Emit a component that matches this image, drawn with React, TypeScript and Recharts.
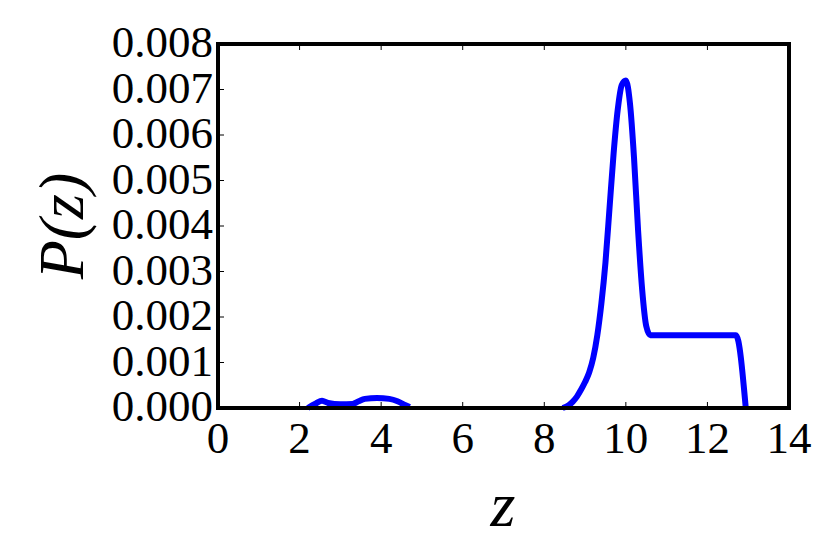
import { Line, LineChart, ReferenceArea, XAxis, YAxis } from "recharts"

// z grid and P(z); null = line hidden under the bottom spine
const zValues = [
  2.2, 2.4, 2.55, 2.7, 3.0, 3.3, 3.45, 3.6, 3.9, 4.2, 4.4, 4.6, 4.7,
  6.5,
  8.45, 8.6, 8.7, 8.8, 8.9, 9.0, 9.1, 9.2, 9.3, 9.4, 9.5, 9.6, 9.7, 9.8, 9.9, 10.0,
  10.1, 10.2, 10.3, 10.4, 10.5, 10.6, 12.7, 12.94,
]
const pValues = [
  0, 0.0001, 0.00016, 0.00011, 0.00008, 0.00009, 0.00015, 0.0002, 0.00022, 0.0002, 0.00015, 0.00006, 0.00002,
  null,
  0, 0.00006, 0.00014, 0.00025, 0.0004, 0.00057, 0.00078, 0.0011, 0.0016, 0.0023, 0.0032, 0.0044, 0.0056, 0.00655, 0.0071, 0.0072,
  0.0067, 0.0055, 0.0039, 0.0026, 0.0018, 0.0016, 0.0016, 0,
]

const xTicks = [0, 2, 4, 6, 8, 10, 12, 14]
const yTicks = [0, 0.001, 0.002, 0.003, 0.004, 0.005, 0.006, 0.007, 0.008]

const data = zValues.map((z, i) => ({ z, p: pValues[i] }))

const font = "'Liberation Serif', 'DejaVu Serif', serif"

const BottomTick = ({ x, y, payload }: any) => (
  <g>
    <line x1={x} x2={x} y1={y} y2={y - 6} stroke="#000" strokeWidth={1} />
    <text x={x} y={y + 45} textAnchor="middle" fontSize={45} fontFamily={font} fill="#000">
      {payload.value}
    </text>
  </g>
)

const TopTick = ({ x, y }: any) => <line x1={x} x2={x} y1={y} y2={y + 6} stroke="#000" strokeWidth={1} />

const LeftTick = ({ x, y, payload }: any) => (
  <g>
    <line x1={x} x2={x + 6} y1={y} y2={y} stroke="#000" strokeWidth={1} />
    <text x={x - 5} y={y + 13} textAnchor="end" fontSize={45} fontFamily={font} fill="#000">
      {payload.value.toFixed(3)}
    </text>
  </g>
)

const RightTick = ({ x, y }: any) => <line x1={x} x2={x - 6} y1={y} y2={y} stroke="#000" strokeWidth={1} />

export default function App() {
  return (
    <div style={{ position: "absolute", left: 0, top: 0, width: 830, height: 554, background: "#fff" }}>
      <LineChart width={830} height={554} data={data} margin={{ top: 43, right: 40, bottom: 0, left: 0 }}>
        <XAxis
          dataKey="z"
          type="number"
          domain={[0, 14]}
          ticks={xTicks}
          height={146}
          tickLine={false}
          tickSize={0}
          tickMargin={0}
          tick={<BottomTick />}
          axisLine={{ stroke: "#000", strokeWidth: 4 }}
          interval={0}
        />
        <XAxis
          xAxisId="top"
          orientation="top"
          dataKey="z"
          type="number"
          domain={[0, 14]}
          ticks={xTicks}
          height={1}
          tickLine={false}
          tickSize={0}
          tickMargin={0}
          tick={<TopTick />}
          axisLine={{ stroke: "#000", strokeWidth: 4 }}
          interval={0}
        />
        <YAxis
          type="number"
          domain={[0, 0.008]}
          ticks={yTicks}
          width={218}
          tickLine={false}
          tickSize={0}
          tickMargin={0}
          tick={<LeftTick />}
          axisLine={{ stroke: "#000", strokeWidth: 4 }}
          interval={0}
        />
        <YAxis
          yAxisId="right"
          orientation="right"
          type="number"
          domain={[0, 0.008]}
          ticks={yTicks}
          width={1}
          tickLine={false}
          tickSize={0}
          tickMargin={0}
          tick={<RightTick />}
          axisLine={{ stroke: "#000", strokeWidth: 4 }}
          interval={0}
        />
        <ReferenceArea x1={0} x2={14} y1={0} y2={0.008} fill="none" fillOpacity={0} stroke="#000" strokeWidth={4} ifOverflow="visible" />
        <Line
          dataKey="p"
          type="monotone"
          stroke="#0000ff"
          strokeWidth={6}
          dot={false}
          connectNulls={false}
          isAnimationActive={false}
        />
      </LineChart>
      <div
        style={{
          position: "absolute",
          left: 503,
          top: 505,
          transform: "translate(-50%, -50%)",
          fontFamily: font,
          fontStyle: "italic",
          fontSize: 64,
        }}
      >
        z
      </div>
      <div
        style={{
          position: "absolute",
          left: 62,
          top: 226,
          transform: "translate(-50%, -50%) rotate(-90deg)",
          fontFamily: font,
          fontStyle: "italic",
          fontSize: 64,
          whiteSpace: "nowrap",
        }}
      >
        P(z)
      </div>
    </div>
  )
}
